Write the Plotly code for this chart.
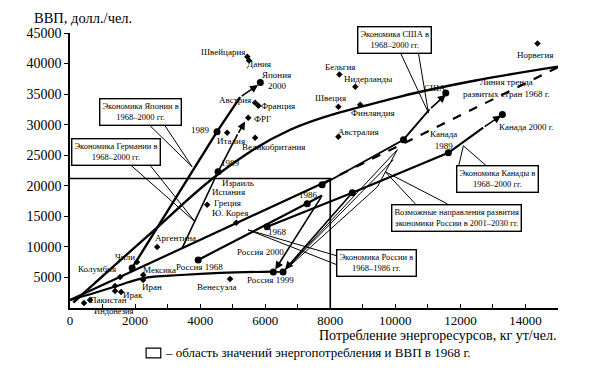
import plotly.graph_objects as go

# ---------------- data ----------------
# country points (GDP per capita vs energy consumption)
country_x = [5450, 5500, 5690, 5790, 5480, 4830, 5690, 4215, 2680, 2060, 1540, 2250, 2250,
             1385, 1570, 1385, 615, 430, 4920, 8280, 8770, 8250, 8920, 8250, 14370, 5110]
country_y = [41100, 40500, 33600, 33100, 31140, 28680, 27860, 16880, 10000, 7540, 5080, 5410, 4590,
             2790, 2620, 3600, 1310, 820, 4750, 38190, 36220, 32940, 33270, 28030, 43270, 13930]

label_names = ["Швейцария", "Дания", "Япония", "2000", "Австрия", "Франция", "ФРГ", "Италия",
               "Великобритания", "1989", "1989", "Израиль", "Испания", "Ю. Корея",
               "Аргентина", "Чили", "Колумбия", "Мексика", "Иран", "Ирак", "Пакистан",
               "Венесуэла", "Россия 1968", "Россия 2000", "Россия 1999", "1986", "1968",
               "Бельгия", "Нидерланды", "Швеция", "Финляндия", "Австралия", "Норвегия", "США",
               "Канада<br>1989", "Канада 2000 г.", "Линия тренда<br>развитых стран 1968 г."]
label_x = [4708, 5815, 6339, 6370, 5077, 6400, 5908, 4954, 6246, 4000, 4923, 5169, 4862, 4923,
           3231, 1692, 831, 2739, 2523, 1938, 1169, 4523, 3985, 5846, 6154, 7323, 6370,
           8308, 9169, 8000, 9323, 8862, 14308, 11231, 11477, 14031, 13415]
label_y = [41958, 39992, 38189, 36386, 34091, 33108, 30977, 27371, 26388, 29174, 23766, 20488,
           19012, 15571, 11473, 8359, 6392, 6228, 3442, 2131, 1311, 3442, 6720, 9178, 4589,
           18521, 12456, 39500, 37533, 34419, 31960, 28846, 41467, 36058, 27535, 29666, 36058]
greece_label = ("Греция", 4369, 17210)
indonesia_label = "Индонезия"

# 1968 trend of developed countries (solid part, dashed continuation)
trend_x = [0, 1540, 3450, 5110, 7800]
trend_y = [1300, 5080, 9830, 13930, 20500]
trend_dash_x = [7800, 15000]
trend_dash_y = [20500, 39400]

# upper curve
upper_x = [100, 2460, 4615, 6770, 10150, 12615, 15000]
upper_y = [900, 12130, 22130, 29170, 34580, 37370, 39500]

# lower curve (developing countries)
lower_x = [0, 770, 1540, 2250, 3400, 4620, 6250]
lower_y = [1300, 2500, 3770, 4900, 5400, 5740, 5950]

# economies' trajectories
japan_x = [1910, 4520, 5230]
japan_y = [6560, 28850, 34500]
japan_end = (5780, 36500)
germany_x = [3450, 4550, 5150]
germany_y = [9830, 22290, 28400]
germany_end = (5380, 30500)
usa_x = [7750, 10250, 11050]
usa_y = [20160, 27540, 32500]
usa_end = (11550, 34900)
canada_x = [6060, 8677, 11630, 12700]
canada_y = [13280, 18850, 25400, 29500]
canada_end = (13250, 31500)
russia_x = [3940, 7290, 7750]
russia_y = [7870, 17050, 18400]
russia99 = (6250, 5900)
russia00 = (6550, 5900)
scen_x = [10060, 9940, 9450]
scen_y = [25900, 24260, 19830]

# region of 1968 values
box68_x = 8000
box68_y = 21200

FONT = "Liberation Serif"
fig = go.Figure()


def line(x, y, w=2.4, dash="solid", shape="linear"):
    fig.add_trace(go.Scatter(x=x, y=y, mode="lines", line=dict(color="black", width=w, dash=dash,
                                                                   shape=shape),
                             hoverinfo="skip", showlegend=False))


# region rectangle (1968)
line([0, box68_x, box68_x], [box68_y, box68_y, 0], w=1.6)

line(trend_x, trend_y, w=2.2)
line(trend_dash_x, trend_dash_y, w=2.2, dash="dash")
line(upper_x, upper_y, w=2.4, shape="spline")
line(lower_x, lower_y, w=2.2, shape="spline")
line(japan_x, japan_y, w=2.4)
line(germany_x, germany_y, w=1.6)
line(usa_x, usa_y, w=1.8)
line(canada_x, canada_y, w=2.2)
line(russia_x, russia_y, w=2.2)
line([russia99[0], russia00[0]], [russia99[1], russia00[1]], w=1.6)

# Russia scenarios fan
for sx, sy in zip(scen_x, scen_y):
    line([russia00[0], sx], [russia00[1], sy], w=1.0)
line([scen_x[0], scen_x[2]], [scen_y[0], scen_y[2]], w=1.0)

# arrows
arrows = [
    (japan_x[-1], japan_y[-1], japan_end[0], japan_end[1]),
    (germany_x[-1], germany_y[-1], germany_end[0], germany_end[1]),
    (usa_x[-1], usa_y[-1], usa_end[0], usa_end[1]),
    (canada_x[-1], canada_y[-1], canada_end[0], canada_end[1]),
    (russia_x[-1], russia_y[-1], russia99[0] + 60, russia99[1] + 400),
    (canada_x[1], canada_y[1], russia00[0] + 60, russia00[1] + 400),
]
for x0, y0, x1, y1 in arrows:
    fig.add_annotation(x=x1, y=y1, ax=x0, ay=y0, xref="x", yref="y", axref="x", ayref="y",
                       text="", showarrow=True, arrowhead=2, arrowsize=1, arrowwidth=1.6,
                       arrowcolor="black")

# big trajectory dots
big_x = [japan_x[0], japan_x[1], japan_end[0] + 70, germany_x[1], usa_x[0], usa_x[1], usa_end[0],
         canada_x[0], canada_x[1], canada_x[2], canada_end[0] + 40, russia_x[0], russia_x[1],
         russia99[0], russia00[0]]
big_y = [japan_y[0], japan_y[1], japan_end[1] + 400, germany_y[1], usa_y[0], usa_y[1], usa_end[1] + 300,
         canada_y[0], canada_y[1], canada_y[2], canada_end[1] + 150, russia_y[0], russia_y[1],
         russia99[1], russia00[1]]
fig.add_trace(go.Scatter(x=big_x, y=big_y, mode="markers",
                         marker=dict(color="black", size=7, symbol="circle"),
                         hoverinfo="skip", showlegend=False))
fig.add_trace(go.Scatter(x=country_x, y=country_y, mode="markers",
                         marker=dict(color="black", size=5, symbol="diamond"),
                         hoverinfo="skip", showlegend=False, cliponaxis=False))

# labels
for name, lx, ly in zip(label_names, label_x, label_y):
    fig.add_annotation(x=lx, y=ly, xref="x", yref="y", text=name, showarrow=False,
                       font=dict(family=FONT, size=9, color="black"), bgcolor="rgba(0,0,0,0)")
fig.add_annotation(x=greece_label[1], y=greece_label[2], xref="x", yref="y", text=greece_label[0],
                   xanchor="left", showarrow=False, font=dict(family=FONT, size=9, color="black"))
fig.add_annotation(x=0.045, y=-0.036, xref="paper", yref="paper", text=indonesia_label,
                   showarrow=False, font=dict(family=FONT, size=8.5, color="black"))

# callout boxes: (text, center x, center y, [(from x, from y)], tip)
callouts = [
    ("Экономика Японии в<br>1968–2000 гг.", 2154, 32124, [(2460, 29830), (2920, 29830)], (3754, 23110)),
    ("Экономика Германии в<br>1968–2000 гг.", 1415, 25568, [(1785, 23765), (2400, 23765)], (3846, 14095)),
    ("Экономика США в<br>1968–2000 гг.", 9970, 43925, [(10154, 41795), (10708, 41795)], (11016, 31960)),
    ("Экономика Канады в<br>1968–2000 гг.", 13139, 21143, [(11940, 23110), (12830, 23110)], (12092, 26550)),
    ("Экономика России в<br>1968–1986 гг.", 9415, 7376, [(8215, 8520), (8215, 7050)], (5477, 12784)),
    ("Возможные направления развития<br>экономики России в 2001–2030 гг.", 11877, 14751,
     [(10615, 17046), (11600, 17046)], (9692, 22290)),
]
for text, cx, cy, froms, tip in callouts:
    for fx, fy in froms:
        line([fx, tip[0]], [fy, tip[1]], w=1.0)
    fig.add_annotation(x=cx, y=cy, xref="x", yref="y", text=text, showarrow=False,
                       font=dict(family=FONT, size=8.5, color="black"), bgcolor="white",
                       bordercolor="black", borderwidth=1.4, borderpad=2)

# axis titles
fig.add_annotation(x=-0.078, y=1.09, xref="paper", yref="paper", text="ВВП, долл./чел.",
                   xanchor="left", yanchor="top", showarrow=False,
                   font=dict(family=FONT, size=14.5, color="black"))
fig.add_annotation(x=1.0, y=-0.1, xref="paper", yref="paper",
                   text="Потребление энергоресурсов, кг ут/чел.", xanchor="right", yanchor="middle",
                   showarrow=False, font=dict(family=FONT, size=14, color="black"))

# legend box
fig.add_shape(type="rect", xref="paper", yref="paper", x0=0.156, x1=0.186, y0=-0.146, y1=-0.181,
              line=dict(color="black", width=1.2), fillcolor="white")
fig.add_annotation(x=0.191, y=-0.163, xref="paper", yref="paper",
                   text="– область значений энергопотребления и ВВП в 1968 г.", xanchor="left",
                   yanchor="middle", showarrow=False, font=dict(family=FONT, size=13, color="black"))

xt = list(range(0, 15001, 1000))
xtt = [str(v) if v % 2000 == 0 else "" for v in xt]
yt = list(range(5000, 45001, 5000))

# page body has an 8px default margin, so margins are reduced by 8px on left/top
fig.update_layout(
    width=600, height=372, margin=dict(l=62, r=50, t=25, b=72),
    paper_bgcolor="white", plot_bgcolor="white", showlegend=False,
    font=dict(family=FONT, color="black"),
    xaxis=dict(range=[0, 15000], tickvals=xt, ticktext=xtt, ticks="inside", ticklen=4,
               tickcolor="black", showgrid=False, zeroline=False, showline=True, linecolor="black",
               linewidth=1.6, tickfont=dict(family=FONT, size=13)),
    yaxis=dict(range=[0, 45000], tickvals=yt, ticktext=[str(v) for v in yt], ticks="outside",
               ticklen=4, tickcolor="black", showgrid=False, zeroline=False, showline=True,
               linecolor="black", linewidth=1.6, tickfont=dict(family=FONT, size=14)),
)

fig.write_html("out.html")
